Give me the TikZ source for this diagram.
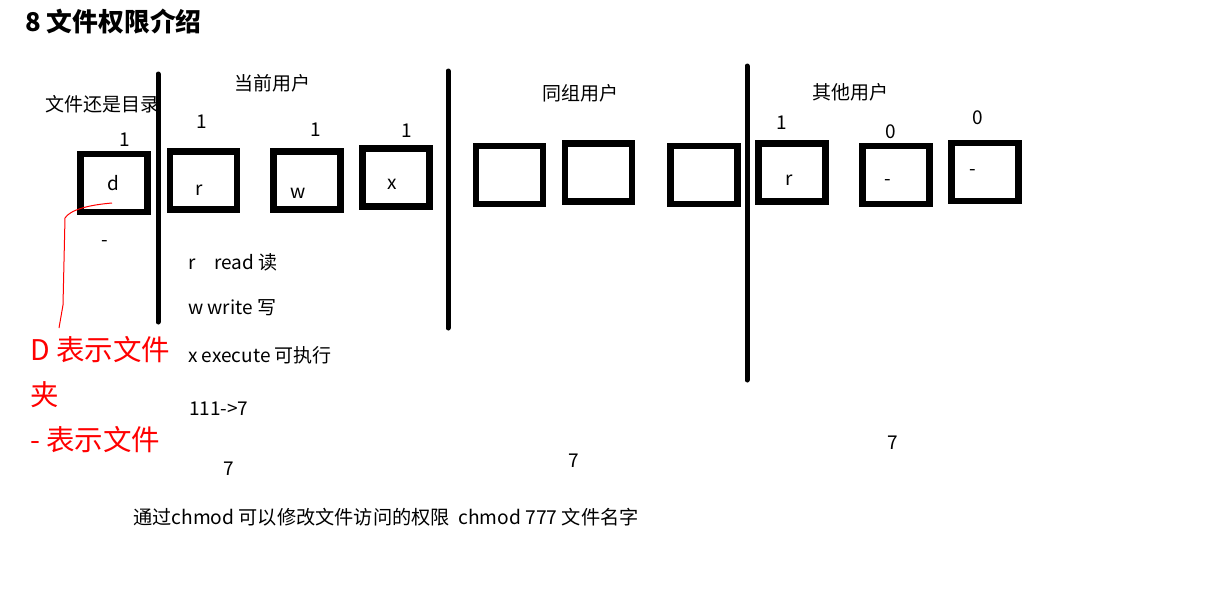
\documentclass[tikz,border=0pt]{standalone}
\usepackage{fontspec}
\setmainfont{Noto Sans CJK SC}
\tikzset{
  permbox/.style={draw, line width=6.5pt, inner sep=0pt, minimum width=67pt, minimum height=58pt},
  divider/.style={line width=5pt, line cap=round},
  lbl/.style={inner sep=0pt, font=\fontsize{19}{21}\selectfont},
  redpen/.style={red, line width=1pt}
}
\begin{document}
\begin{tikzpicture}[x=1pt,y=-1pt]
    \useasboundingbox (0,0) rectangle (1230,590);
    \node[anchor=west, inner sep=0pt, font=\fontsize{25.8}{28}\selectfont\bfseries] (title) at (25,22) {8 文件权限介绍};
    % three dividers
    \draw[divider] (158,74)--(158,322)
	  (448,71)--(448,328)
	  (747,66)--(747,380);
    % permission boxes
    \foreach \n/\x/\y in {bd/114/183, br/203.5/180.5, bw/307/180.5, bx/396/177.5,
                          g1/509.5/175, g2/598.5/172.5, g3/704/175,
                          o1/792/172.5, o2/896/175, o3/985/172}
      \node[permbox] (\n) at (\x,\y) {};
    \node[lbl] (kind) at (102,104) {文件还是目录};
    \node[lbl] (owner) at (272,83) {当前用户};
    \node[lbl] (group) at (580,93) {同组用户};
    \node[lbl] (other) at (850,92) {其他用户};
    % bits and letters
    \node[lbl] at (125,140) {1};  \node[lbl] at (113,183) {d};
    \node[lbl] at (202,122) {1};  \node[lbl] at (199,190) {r};
    \node[lbl] at (316,130) {1};  \node[lbl] at (298,193) {w};
    \node[lbl] at (407,131) {1};  \node[lbl] at (392,184) {x};
    \node[lbl] at (782,123) {1};  \node[lbl] at (789,180) {r};
    \node[lbl] at (891,132) {0};  \node[lbl] at (888,183) {-};
    \node[lbl] at (978,118) {0};  \node[lbl] at (973,173) {-};
    \node[lbl] at (105,243) {-};
    % legend
    \node[lbl, anchor=west] (rd) at (188,262) {r\quad read 读};
    \node[lbl, anchor=west] (wr) at (188,308) {w write 写};
    \node[lbl, anchor=west] (ex) at (188,355) {x execute 可执行};
    \node[lbl, anchor=west] (sum) at (189,409) {111->7};
    \node[lbl] at (229,469) {7};
    \node[lbl] at (574,461) {7};
    \node[lbl] at (893,443) {7};
    \node[lbl, anchor=west, font=\fontsize{19.2}{21}\selectfont] (cmd) at (133,517) {通过chmod 可以修改文件访问的权限\ \ chmod 777 文件名字};
    % red note
    \node[anchor=north west, inner sep=0pt, align=left, text=red, font=\fontsize{28.5}{45}\selectfont] (dnote) at (30,336) {D 表示文件\\夹\\- 表示文件};
    \coordinate (dtip) at (112,203);
    \coordinate (dtail) at (59,328);
    \draw[redpen] (dtip) .. controls (88,205) and (70,210) .. (65,218) -- (63,305) -- (dtail);
\end{tikzpicture}
\end{document}
